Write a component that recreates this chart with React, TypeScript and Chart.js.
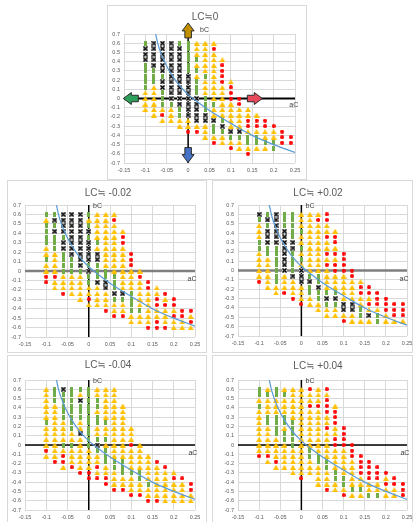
import React, { useEffect, useRef } from "react";
import { Chart, registerables } from "chart.js";

Chart.register(...registerables);

// ---------- data ----------
const A_VALUES = [-0.1, -0.08, -0.06, -0.04, -0.02, 0, 0.02, 0.04, 0.06, 0.08, 0.1, 0.12, 0.14, 0.16, 0.18, 0.2, 0.22, 0.24];
const B_VALUES = [0.6, 0.54, 0.48, 0.42, 0.36, 0.3, 0.24, 0.18, 0.12, 0.06, 0, -0.06, -0.12, -0.18, -0.24, -0.3, -0.36, -0.42, -0.48, -0.54, -0.6];
const A_TICKS = [-0.15, -0.1, -0.05, 0, 0.05, 0.1, 0.15, 0.2, 0.25];
const B_TICKS = [0.7, 0.6, 0.5, 0.4, 0.3, 0.2, 0.1, 0, -0.1, -0.2, -0.3, -0.4, -0.5, -0.6, -0.7];

const CURVE_A = [-0.076, -0.07, -0.06, -0.05, -0.04, -0.03, -0.02, -0.01, 0, 0.02, 0.05, 0.1, 0.15, 0.2, 0.25];
const CURVE_B = [0.7, 0.58, 0.45, 0.35, 0.27, 0.2, 0.14, 0.09, 0.045, -0.03, -0.13, -0.27, -0.4, -0.5, -0.585];

const ARROW_A = [0, 0, -0.134, 0.156];
const ARROW_B = [0.739, -0.614, 0, 0];
const ARROW_DIRS = ["up", "down", "left", "right"];

// marker codes per column (one string per aC value, one char per bC value from 0.6 down)
// G = green square, X = black cross, T = yellow triangle, R = red dot, . = none
const COLS_LC0 = [
  "GXXXGGGGGTTTT",
  "XXXXXGGGTTTTTT",
  "XXXXXXGXXGGGTRT",
  "XXXXXXXXXXXGTTT",
  "GXXXXXXXXXXXGGTT",
  "GGGGGGXXXXXXXXTTR",
  "TTTGTGTGGGXXXXXTR",
  "TTTTTTGTTTGGGXXTTT",
  "TRTTTTTTTTTGTTXGGTR",
  "...TRRRRTTTTTTGXGTT",
  ".......TRRRTTTTTXGTR",
  "..........RRTTTTXGTT",
  "............TTRRTGGTR",
  ".............TRRTGGT",
  "..............RRTTGT",
  "...............RTTGG",
  "................RRR",
  ".................RR",
];
const COLS_M002 = [
  "GTGGGGTTGTTRR",
  "GXGXGGGTTTTRTT",
  "XXXXGXXGGGGTTTR",
  "XXXXXXXXGGGTTTT",
  "XXXXXXXXXXGTTTTT",
  "GTGXGXXXXGXGGTTRT",
  "TTTTTGTXXGGGXTTTT",
  "TTTTTTTTTTGGXXTTTR",
  "TRTTTTTTTTTGGGXGTTR",
  "...TRRTTTTTTTTXGTTR",
  ".......RRRTTTTGGGGTT",
  "..........TRTTTTTGTT",
  "............RRTTTTTTR",
  ".............TTRRTTRR",
  "..............RTRTTTR",
  "...............RRTRTT",
  ".................RRTT",
  ".................RTRT",
];
const COLS_P002 = [
  "XGTTTGGTTTTTR",
  "GXGXXXGGTTTTTT",
  "XXXXXXGGGGGGGTT",
  "GGGXXXXXXXXTTTR",
  "GGGGGXXGGGGXTTTR",
  "TTTGTTGTGTXXXTTTR",
  "TTTTTTTTTTTGXGGTT",
  "TRTTTTTTTTTGGXGGTT",
  "RRTTRTTRTRTTTTGXGTT",
  "...TRRTRTRRTTTGXGTT",
  ".......RRRRTTTTTXXTR",
  "..........RRTTTTXXTT",
  "............TRRTTGGT",
  ".............RRTRTXT",
  "..............RRRTGG",
  "...............RRRTT",
  "................RRRT",
  "................RRRT",
];
const COLS_M004 = [
  "TTTTTTGTTTTRT",
  "GGGTTTTTTTTTTR",
  "XGGGGGTTTTGTRRT",
  "GGGGGGGGTTGTTTR",
  "GTXGGGTTXTTTTTTR",
  "GGGGGGGGGGGTTTTRR",
  "TTGGTGGTTGXGTTRTR",
  "TTTTTTGTTGTGGGTTRR",
  "TTTTTTTTTTTTTGGTTTR",
  "...TTTTTTTTTTGGGTTR",
  ".......TTTRTTTTGTTTR",
  "..........TTTTTGGTTR",
  "............TTTTTGTTR",
  ".............RTTTTTTR",
  "..............RTTTTTT",
  "...............TRTTTT",
  "................RTTTT",
  ".................RRTT",
];
const COLS_P004 = [
  "GGTGTTTTTTTTR",
  "TGTTTGGTTTTTRT",
  "GGTTTGGGGTTTTRT",
  "TGTTTGGTGGTTTTT",
  "TTTTTTGGGGGTTTTT",
  "TTTTTTTTTTTTTTTTR",
  "RTTRTTTTTTTGGTTT",
  "TTTRTTTTTTTTGGTTTT",
  "RTRRRTTRTTTTTGGTTTR",
  "...TRRRTTRRTTTTGGTT",
  ".......RRRRTTTTTGGTR",
  "..........RRRTTTTTGT",
  "............RRRRTTGT",
  ".............RRRRTTG",
  "..............RRRTTG",
  "...............RTRTT",
  "................RRTT",
  ".................RRR",
];

// ---------- layout ----------
const FONT = "'Liberation Sans', 'DejaVu Sans', 'Noto Sans CJK JP', sans-serif";
const PANELS = [
  { title: "LC≒0", cols: COLS_LC0, box: [107, 5, 200, 175], plot: [124, 34, 295, 163], titleXY: [205, 17], bc: [0.028, 0.745], ac: [0.247, -0.07], hAxis: ["#000000", 2], arrows: true },
  { title: "LC≒ -0.02", cols: COLS_M002, box: [7, 180, 200, 173], plot: [25, 205, 195, 337], titleXY: [108, 193], bc: [0.01, 0.686], ac: [0.243, -0.088], hAxis: ["#7f7f7f", 2.5], arrows: false },
  { title: "LC≒ +0.02", cols: COLS_P002, box: [212, 180, 201, 173], plot: [238, 205, 409, 336], titleXY: [318, 193], bc: [0.01, 0.686], ac: [0.243, -0.088], hAxis: ["#7f7f7f", 2.5], arrows: false },
  { title: "LC≒ -0.04", cols: COLS_M004, box: [7, 355, 200, 172], plot: [25, 380, 195, 510], titleXY: [108, 365], bc: [0.01, 0.69], ac: [0.245, -0.086], hAxis: ["#000000", 1.5], arrows: false },
  { title: "LC≒ +0.04", cols: COLS_P004, box: [212, 355, 201, 172], plot: [238, 380, 409, 510], titleXY: [318, 366], bc: [0.01, 0.69], ac: [0.245, -0.086], hAxis: ["#000000", 1.5], arrows: false },
];

const ARROW_COLORS = ["#C09000", "#4472C4", "#2E9F5B", "#E8485A"];

function makeMarker(kind: string): HTMLCanvasElement {
  const c = document.createElement("canvas");
  const ctx = c.getContext("2d")!;
  if (kind === "G") {
    c.width = 3; c.height = 5;
    ctx.fillStyle = "#70AD47";
    ctx.fillRect(0, 0, 3, 5);
  } else if (kind === "T") {
    c.width = 6; c.height = 5;
    ctx.fillStyle = "#FFC000";
    ctx.beginPath(); ctx.moveTo(3, 0); ctx.lineTo(6, 5); ctx.lineTo(0, 5); ctx.closePath(); ctx.fill();
  } else if (kind === "X") {
    c.width = 5; c.height = 5;
    ctx.fillStyle = "#d0d0d0";
    ctx.fillRect(0, 0, 5, 5);
    ctx.strokeStyle = "#000"; ctx.lineWidth = 1.3;
    ctx.beginPath(); ctx.moveTo(0.5, 0.5); ctx.lineTo(4.5, 4.5); ctx.moveTo(4.5, 0.5); ctx.lineTo(0.5, 4.5); ctx.stroke();
  } else {
    c.width = 4; c.height = 4;
    ctx.fillStyle = "#FF0000";
    ctx.beginPath(); ctx.arc(2, 2, 2, 0, Math.PI * 2); ctx.fill();
  }
  return c;
}

function pointsFor(cols: string[], code: string) {
  const pts: { x: number; y: number }[] = [];
  cols.forEach((col, i) => {
    for (let j = 0; j < B_VALUES.length; j++) {
      if (col[j] === code) pts.push({ x: A_VALUES[i], y: B_VALUES[j] });
    }
  });
  return pts;
}

function fmt(v: number) {
  return String(Number(v.toFixed(2)));
}

function drawArrow(ctx: CanvasRenderingContext2D, x: number, y: number, dir: string, color: string) {
  const L = 15, hl = 8, hw = 12, sw = 6.5;
  const ang = dir === "right" ? 0 : dir === "left" ? Math.PI : dir === "up" ? -Math.PI / 2 : Math.PI / 2;
  ctx.save();
  ctx.translate(x, y);
  ctx.rotate(ang);
  ctx.beginPath();
  ctx.moveTo(-L / 2, -sw / 2);
  ctx.lineTo(L / 2 - hl, -sw / 2);
  ctx.lineTo(L / 2 - hl, -hw / 2);
  ctx.lineTo(L / 2, 0);
  ctx.lineTo(L / 2 - hl, hw / 2);
  ctx.lineTo(L / 2 - hl, sw / 2);
  ctx.lineTo(-L / 2, sw / 2);
  ctx.closePath();
  ctx.fillStyle = color;
  ctx.fill();
  ctx.strokeStyle = "#2b2b2b";
  ctx.lineWidth = 1;
  ctx.stroke();
  ctx.restore();
}

function Panel({ p }: { p: any }) {
  const ref = useRef<HTMLCanvasElement>(null);
  const [bx, by, bw, bh] = p.box;
  const cx = bx + 1, cy = by + 1, cw = bw - 2, ch = bh - 2;

  useEffect(() => {
    const [pl, pt, pr, pb] = p.plot;
    const padL = pl - cx, padT = pt - cy, padR = cx + cw - pr, padB = cy + ch - pb;
    const markers = ["X", "G", "T", "R"];
    const datasets: any[] = [
      {
        label: "curve",
        data: CURVE_A.map((a, i) => ({ x: a, y: CURVE_B[i] })),
        showLine: true,
        borderColor: "#5B9BD5",
        borderWidth: 1.2,
        pointRadius: 0,
        cubicInterpolationMode: "monotone",
        fill: false,
      },
      ...markers.map((m) => ({
        label: m,
        data: pointsFor(p.cols, m),
        pointStyle: makeMarker(m),
        pointRadius: 3,
        showLine: false,
      })),
    ];

    const overlay = {
      id: "overlay",
      beforeDatasetsDraw(chart: any) {
        const { ctx, chartArea: a, scales } = chart;
        const x0 = scales.x.getPixelForValue(0);
        const y0 = scales.y.getPixelForValue(0);
        ctx.save();
        ctx.strokeStyle = p.hAxis[0];
        ctx.lineWidth = p.hAxis[1];
        ctx.beginPath(); ctx.moveTo(a.left, y0); ctx.lineTo(a.right, y0); ctx.stroke();
        ctx.strokeStyle = "#000";
        ctx.lineWidth = 1.5;
        ctx.beginPath(); ctx.moveTo(x0, a.top); ctx.lineTo(x0, a.bottom); ctx.stroke();
        ctx.restore();
      },
      afterDatasetsDraw(chart: any) {
        const { ctx, scales } = chart;
        ctx.save();
        if (p.arrows) {
          ARROW_DIRS.forEach((d, i) => {
            drawArrow(ctx, scales.x.getPixelForValue(ARROW_A[i]), scales.y.getPixelForValue(ARROW_B[i]), d, ARROW_COLORS[i]);
          });
        }
        ctx.fillStyle = "#404040";
        ctx.font = `7px ${FONT}`;
        ctx.textBaseline = "middle";
        ctx.textAlign = "left";
        ctx.fillText("bC", scales.x.getPixelForValue(p.bc[0]), scales.y.getPixelForValue(p.bc[1]));
        ctx.textAlign = "center";
        ctx.fillText("aC", scales.x.getPixelForValue(p.ac[0]), scales.y.getPixelForValue(p.ac[1]));
        ctx.fillStyle = "#595959";
        ctx.font = `10px ${FONT}`;
        ctx.fillText(p.title, p.titleXY[0] - cx, p.titleXY[1] - cy);
        ctx.restore();
      },
    };

    const tickFont = { family: FONT, size: 5.5 };
    const chart = new Chart(ref.current!, {
      type: "scatter",
      data: { datasets },
      options: {
        animation: false,
        responsive: false,
        maintainAspectRatio: false,
        layout: { padding: { left: 0, top: padT, right: padR, bottom: 0 } },
        plugins: { legend: { display: false }, tooltip: { enabled: false }, title: { display: false } },
        events: [],
        scales: {
          x: {
            type: "linear",
            min: -0.15,
            max: 0.25,
            afterBuildTicks: (s: any) => { s.ticks = A_TICKS.map((v) => ({ value: v })); },
            afterFit: (s: any) => { s.height = padB; s.paddingLeft = 0; s.paddingRight = 0; },
            grid: { color: "#d9d9d9", lineWidth: 1, drawTicks: false },
            border: { display: false },
            ticks: { font: tickFont, color: "#595959", padding: 4, maxRotation: 0, autoSkip: false, callback: (v: any) => fmt(Number(v)) },
          },
          y: {
            type: "linear",
            min: -0.7,
            max: 0.7,
            afterBuildTicks: (s: any) => { s.ticks = B_TICKS.map((v) => ({ value: v })); },
            afterFit: (s: any) => { s.width = padL; s.paddingTop = 0; s.paddingBottom = 0; },
            grid: { color: "#d9d9d9", lineWidth: 1, drawTicks: false },
            border: { display: false },
            ticks: { font: tickFont, color: "#595959", padding: 4, autoSkip: false, callback: (v: any) => fmt(Number(v)) },
          },
        },
      } as any,
      plugins: [overlay],
    });
    return () => chart.destroy();
  }, []);

  return (
    <div
      style={{
        position: "absolute",
        left: bx,
        top: by,
        width: bw,
        height: bh,
        boxSizing: "border-box",
        border: "1px solid #d9d9d9",
        background: "#fff",
      }}
    >
      <canvas ref={ref} width={cw} height={ch} style={{ display: "block", width: cw, height: ch }} />
    </div>
  );
}

export default function App() {
  return (
    <div style={{ position: "absolute", left: 0, top: 0, width: 415, height: 522, overflow: "hidden", background: "#fff" }}>
      {PANELS.map((p, i) => (
        <Panel key={i} p={p} />
      ))}
    </div>
  );
}
